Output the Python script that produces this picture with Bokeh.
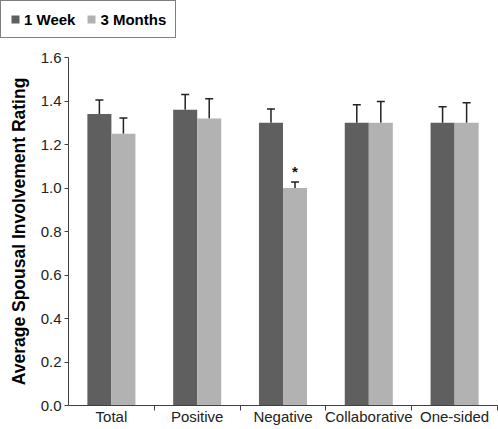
from bokeh.plotting import figure
from bokeh.layouts import column, row
from bokeh.models import (ColumnDataSource, Range1d, LinearAxis, FixedTicker, Whisker,
                          TeeHead, Legend, LegendItem, PrintfTickFormatter)
from bokeh.transform import dodge
from bokeh.core.properties import value
from bokeh.embed import file_html
from bokeh.resources import INLINE

# ---- data ----
categories = ["Total", "Positive", "Negative", "Collaborative", "One-sided"]
week1 = [1.34, 1.36, 1.30, 1.30, 1.30]
week1_err = [0.065, 0.07, 0.063, 0.083, 0.073]
months3 = [1.25, 1.32, 1.00, 1.30, 1.30]
months3_err = [0.072, 0.09, 0.028, 0.098, 0.092]
significance = ["", "", "*", "", ""]
y_ticks = [0.0, 0.2, 0.4, 0.6, 0.8, 1.0, 1.2, 1.4, 1.6]
series_names = ["1 Week", "3 Months"]

DARK = "#5f5f5f"
LIGHT = "#b2b2b2"
FONT = "Liberation Sans"

n = len(categories)
centers = [i + 0.5 for i in range(n)]
bounds = [i + 1 for i in range(n)]

src = ColumnDataSource(dict(
    x=centers,
    w1=week1,
    w1_hi=[v + e for v, e in zip(week1, week1_err)],
    m3=months3,
    m3_hi=[v + e for v, e in zip(months3, months3_err)],
    sig=significance,
))

# ---- legend strip (its swatch renderers are kept outside the visible range) ----
top = figure(width=498, height=40, output_backend="svg", toolbar_location=None,
             x_range=Range1d(0, 1), y_range=Range1d(0, 1),
             x_axis_type=None, y_axis_type=None,
             min_border_left=0, min_border_right=0, min_border_top=0, min_border_bottom=0)
top.outline_line_color = None
top.xgrid.grid_line_color = None
top.ygrid.grid_line_color = None
l1 = top.vbar(x=[-5], top=[-5], width=0.1, fill_color=DARK, line_color=None)
l2 = top.vbar(x=[-5], top=[-5], width=0.1, fill_color=LIGHT, line_color=None)
legend = Legend(items=[LegendItem(label=series_names[0], renderers=[l1]),
                       LegendItem(label=series_names[1], renderers=[l2])],
                location="top_left", orientation="horizontal",
                border_line_color="black", border_line_width=1.5,
                background_fill_color="white", background_fill_alpha=1,
                padding=9, margin=0, spacing=11, label_standoff=4,
                glyph_width=10, glyph_height=10, label_height=18,
                label_text_font=FONT, label_text_font_style="bold",
                label_text_font_size="15px", label_text_color="black")
top.add_layout(legend)

# ---- main chart ----
p = figure(width=498, height=389, output_backend="svg", toolbar_location=None,
           x_range=Range1d(0, n), y_range=Range1d(0, 1.6),
           x_axis_type=None, y_axis_type=None,
           min_border_left=68, min_border_right=1, min_border_top=17, min_border_bottom=24)
p.outline_line_color = None
p.background_fill_color = "white"
p.border_fill_color = "white"

# y axis
yax = LinearAxis(ticker=FixedTicker(ticks=y_ticks), formatter=PrintfTickFormatter(format="%.1f"))
yax.axis_label = "Average Spousal Involvement Rating"
yax.axis_label_text_font = FONT
yax.axis_label_text_font_style = "bold"
yax.axis_label_text_font_size = "17.5px"
yax.axis_label_text_color = "black"
yax.axis_label_standoff = 9
yax.major_label_text_font = FONT
yax.major_label_text_font_size = "15px"
yax.major_label_text_color = "#222222"
yax.major_label_standoff = 3
yax.major_tick_in = 0
yax.major_tick_out = 4
yax.minor_tick_line_color = None
yax.axis_line_color = "#404040"
yax.major_tick_line_color = "#404040"
p.add_layout(yax, "left")

# x axis: labels at category centres, tick marks at category boundaries
xax = LinearAxis(ticker=FixedTicker(ticks=centers, minor_ticks=bounds))
xax.major_label_overrides = {c: name for c, name in zip(centers, categories)}
xax.major_tick_line_color = None
xax.major_tick_in = 0
xax.major_tick_out = 0
xax.minor_tick_in = 0
xax.minor_tick_out = 5
xax.minor_tick_line_color = "#404040"
xax.axis_line_color = "#404040"
xax.major_label_text_font = FONT
xax.major_label_text_font_size = "15px"
xax.major_label_text_color = "#222222"
xax.major_label_standoff = -3
p.add_layout(xax, "below")

p.ygrid.ticker = FixedTicker(ticks=y_ticks)
p.ygrid.grid_line_color = "#d9d9d9"
p.ygrid.grid_line_width = 1
p.xgrid.grid_line_color = None

bw = 0.28
p.vbar(x=dodge("x", -bw / 2, range=p.x_range), top="w1", width=bw, bottom=0,
       source=src, fill_color=DARK, line_color=None)
p.vbar(x=dodge("x", bw / 2, range=p.x_range), top="m3", width=bw, bottom=0,
       source=src, fill_color=LIGHT, line_color=None)

for off, lo, hi in [(-bw / 2, "w1", "w1_hi"), (bw / 2, "m3", "m3_hi")]:
    w = Whisker(source=src, base=dodge("x", off, range=p.x_range), lower=lo, upper=hi,
                line_color="#222222", line_width=1.5, lower_head=None,
                upper_head=TeeHead(size=8, line_color="#222222", line_width=1.5))
    p.add_layout(w)

p.text(x=dodge("x", bw / 2, range=p.x_range), y="m3_hi", text="sig", source=src,
       text_align="center", text_baseline="bottom", y_offset=-2,
       text_font=value(FONT), text_font_style="bold",
       text_font_size="15px", text_color="#111111")

layout = column(row(top), p, spacing=0)
open("out.html", "w").write(file_html(layout, INLINE))
